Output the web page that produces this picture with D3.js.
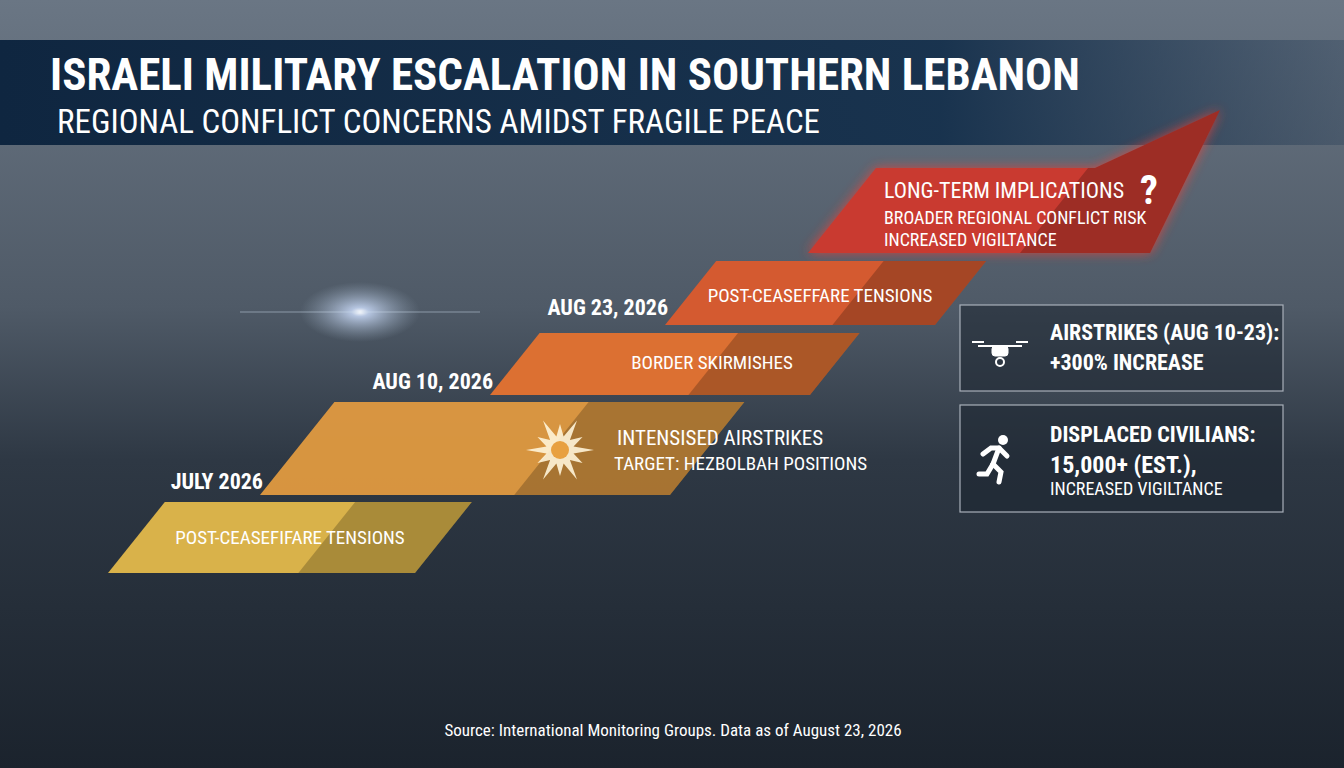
<!DOCTYPE html>
<html><head><meta charset="utf-8">
<script src="https://cdn.jsdelivr.net/npm/d3@7"></script>
<style>
body{margin:0;background:#222}
text{font-family:"Liberation Sans Narrow","Roboto Condensed","Liberation Sans",sans-serif;fill:#fff}
</style></head><body>
<svg id="c" width="1344" height="768"></svg>
<script>
// steps of the escalation, bottom to top
var stepLabels = ["POST-CEASEFIFARE TENSIONS", "INTENSISED AIRSTRIKES", "BORDER SKIRMISHES", "POST-CEASEFFARE TENSIONS", "LONG-TERM IMPLICATIONS"];
var stepSub = ["", "TARGET: HEZBOLBAH POSITIONS", "", "", "BROADER REGIONAL CONFLICT RISK|INCREASED VIGILTANCE"];
var stepDates = ["", "JULY 2026", "AUG 10, 2026", "AUG 23, 2026", ""];
var stepColors = ["#d9b24a", "#e09a40", "#dc7032", "#d45a30", "#c93a30"];
var stepLeft = [108, 260, 490, 665, 808];
var stepRight = [415, 670, 810, 935, 1150];
var stepTop = [502, 402, 333, 261, 168];
var stepBottom = [573, 495, 395, 325, 253];

var statTitles = ["AIRSTRIKES (AUG 10-23):", "DISPLACED CIVILIANS:"];
var statLines = [["+300% INCREASE"], ["15,000+ (EST.),", "INCREASED VIGILTANCE"]];

var svg = d3.select("#c");
var defs = svg.append("defs");
var bg = defs.append("linearGradient").attr("id", "bg").attr("x1", 0).attr("y1", 0).attr("x2", 0).attr("y2", 1);
bg.append("stop").attr("offset", 0).attr("stop-color", "#6a7684");
bg.append("stop").attr("offset", 0.4).attr("stop-color", "#4f5a67");
bg.append("stop").attr("offset", 0.6).attr("stop-color", "#2e3844");
bg.append("stop").attr("offset", 1).attr("stop-color", "#1b232d");
var hb = defs.append("linearGradient").attr("id", "hb");
hb.append("stop").attr("offset", 0).attr("stop-color", "#0f2640");
hb.append("stop").attr("offset", 0.7).attr("stop-color", "#15304c").attr("stop-opacity", 0.95);
hb.append("stop").attr("offset", 1).attr("stop-color", "#1d3550").attr("stop-opacity", 0.3);
var glow = defs.append("filter").attr("id", "glow").attr("x", "-20%").attr("y", "-20%").attr("width", "140%").attr("height", "140%");
glow.append("feGaussianBlur").attr("stdDeviation", 6);
var star = defs.append("radialGradient").attr("id", "star");
star.append("stop").attr("offset", 0).attr("stop-color", "#fff");
star.append("stop").attr("offset", 0.15).attr("stop-color", "#cfe0ff").attr("stop-opacity", 0.8);
star.append("stop").attr("offset", 1).attr("stop-color", "#9ab").attr("stop-opacity", 0);

svg.append("rect").attr("width", 1344).attr("height", 768).attr("fill", "url(#bg)");
svg.append("ellipse").attr("cx", 360).attr("cy", 312).attr("rx", 60).attr("ry", 30).attr("fill", "url(#star)");
svg.append("line").attr("x1", 240).attr("x2", 480).attr("y1", 312).attr("y2", 312).attr("stroke", "#cde").attr("stroke-opacity", 0.5);

// header band
svg.append("rect").attr("x", 0).attr("y", 40).attr("width", 1344).attr("height", 105).attr("fill", "url(#hb)");
svg.append("text").attr("x", 50).attr("y", 90).attr("font-size", 45).attr("font-weight", "bold")
  .text("ISRAELI MILITARY ESCALATION IN SOUTHERN LEBANON");
svg.append("text").attr("x", 57).attr("y", 133).attr("font-size", 33)
  .text("REGIONAL CONFLICT CONCERNS AMIDST FRAGILE PEACE");

function para(i) {
  var h = stepBottom[i] - stepTop[i];
  var s = h * 0.8;
  return [[stepLeft[i], stepBottom[i]], [stepLeft[i] + s, stepTop[i]], [stepRight[i] + s, stepTop[i]], [stepRight[i], stepBottom[i]]];
}
var line = d3.line();

// red arrow glow + head
var r = para(4);
var arrow = [[r[0][0], r[0][1]], [r[1][0], r[1][1]], [1095, 168], [1220, 110], [1150, 253]];
svg.append("path").attr("d", line(arrow) + "Z").attr("fill", "#ff4030").attr("opacity", 0.7).attr("filter", "url(#glow)");

var g = svg.append("g");
stepLabels.forEach(function(lab, i) {
  var p = i === 4 ? arrow : para(i);
  g.append("path").attr("d", line(p) + "Z").attr("fill", stepColors[i]).attr("opacity", i == 1 ? 0.95 : 1);
  // darker right part
  var cut = d3.interpolate(p[0][0], p[p.length - 1][0])(0.62);
  var h = stepBottom[i] - stepTop[i];
  var shade = [[cut, stepBottom[i]], [cut + h * 0.8, stepTop[i]], [p[2][0], stepTop[i]], [p[p.length - 1][0], stepBottom[i]]];
  if (i === 4) shade = [[cut, 253], [cut + 68, 168], [1095, 168], [1220, 110], [1150, 253]];
  g.append("path").attr("d", line(shade) + "Z").attr("fill", "#000").attr("opacity", 0.22);
});

// step texts
svg.append("text").attr("x", 290).attr("y", 544).attr("text-anchor", "middle").attr("font-size", 19).text(stepLabels[0]);
svg.append("text").attr("x", 712).attr("y", 369).attr("text-anchor", "middle").attr("font-size", 19).text(stepLabels[2]);
svg.append("text").attr("x", 820).attr("y", 302).attr("text-anchor", "middle").attr("font-size", 19).text(stepLabels[3]);
svg.append("text").attr("x", 617).attr("y", 445).attr("font-size", 21).text(stepLabels[1]);
svg.append("text").attr("x", 614).attr("y", 470).attr("font-size", 19).text(stepSub[1]);
svg.append("text").attr("x", 884).attr("y", 198).attr("font-size", 22).text(stepLabels[4]);
stepSub[4].split("|").forEach(function(s, k) {
  svg.append("text").attr("x", 884).attr("y", 224 + k * 22).attr("font-size", 18).text(s);
});
svg.append("text").attr("x", 1140).attr("y", 204).attr("font-size", 40).attr("font-weight", "bold").text("?");

// burst icon
var burst = d3.range(24).map(function(k) {
  var a = k / 24 * Math.PI * 2, rr = k % 2 ? 14 : 34 - (k % 4) * 4;
  return [560 + rr * Math.cos(a), 450 + rr * Math.sin(a)];
});
svg.append("path").attr("d", line(burst) + "Z").attr("fill", "#fff4d8").attr("opacity", 0.9);
svg.append("circle").attr("cx", 560).attr("cy", 450).attr("r", 9).attr("fill", "#e8a040");

// dates
var dy = [0, 489, 389, 315];
stepDates.forEach(function(d, i) {
  if (!d) return;
  svg.append("text").attr("x", stepLeft[i] + 3).attr("y", dy[i]).attr("text-anchor", "end").attr("font-size", 22).attr("font-weight", "bold").text(d);
});

// stat boxes
var boxY = [305, 405], boxH = [86, 107];
statTitles.forEach(function(t, i) {
  var b = svg.append("g").attr("transform", "translate(960," + boxY[i] + ")");
  b.append("rect").attr("width", 323).attr("height", boxH[i]).attr("fill", "#1c2430").attr("fill-opacity", 0.55).attr("stroke", "#a8b0ba").attr("stroke-width", 1.2);
  b.append("text").attr("x", 90).attr("y", i ? 37 : 35).attr("font-size", 22).attr("font-weight", "bold").text(t);
  statLines[i].forEach(function(s, k) {
    b.append("text").attr("x", 90).attr("y", (i ? 68 : 65) + k * 22).attr("font-size", k === 0 ? (i ? 24 : 22) : 18).attr("font-weight", k === 0 ? "bold" : "normal").text(s);
  });
});
// drone icon
var dr = svg.append("g").attr("transform", "translate(1000,352)").attr("fill", "#fff").attr("stroke", "#fff");
dr.append("rect").attr("x", -8).attr("y", -6).attr("width", 16).attr("height", 10).attr("rx", 3);
dr.append("line").attr("x1", -22).attr("x2", 22).attr("y1", -6).attr("y2", -6).attr("stroke-width", 2);
dr.append("line").attr("x1", -28).attr("x2", -16).attr("y1", -10).attr("y2", -10).attr("stroke-width", 2);
dr.append("line").attr("x1", 16).attr("x2", 28).attr("y1", -10).attr("y2", -10).attr("stroke-width", 2);
dr.append("circle").attr("cy", 10).attr("r", 4).attr("fill", "none").attr("stroke-width", 2);
// runner icon (white stick figure)
var rn = svg.append("g").attr("transform", "translate(995,460)").attr("stroke", "#fff").attr("stroke-width", 5)
  .attr("stroke-linecap", "round").attr("fill", "none");
rn.append("circle").attr("cx", 8).attr("cy", -20).attr("r", 5).attr("fill", "#fff").attr("stroke", "none");
rn.append("path").attr("d", line([[4, -12], [-2, 4]]));
rn.append("path").attr("d", line([[-2, 4], [6, 12], [4, 22]]));
rn.append("path").attr("d", line([[-2, 4], [-8, 14], [-16, 14]]));
rn.append("path").attr("d", line([[-12, -6], [-4, -12], [4, -12], [12, -4]]));

svg.append("text").attr("x", 673).attr("y", 736).attr("text-anchor", "middle").attr("font-size", 17).text("Source: International Monitoring Groups. Data as of August 23, 2026");
</script></body></html>
